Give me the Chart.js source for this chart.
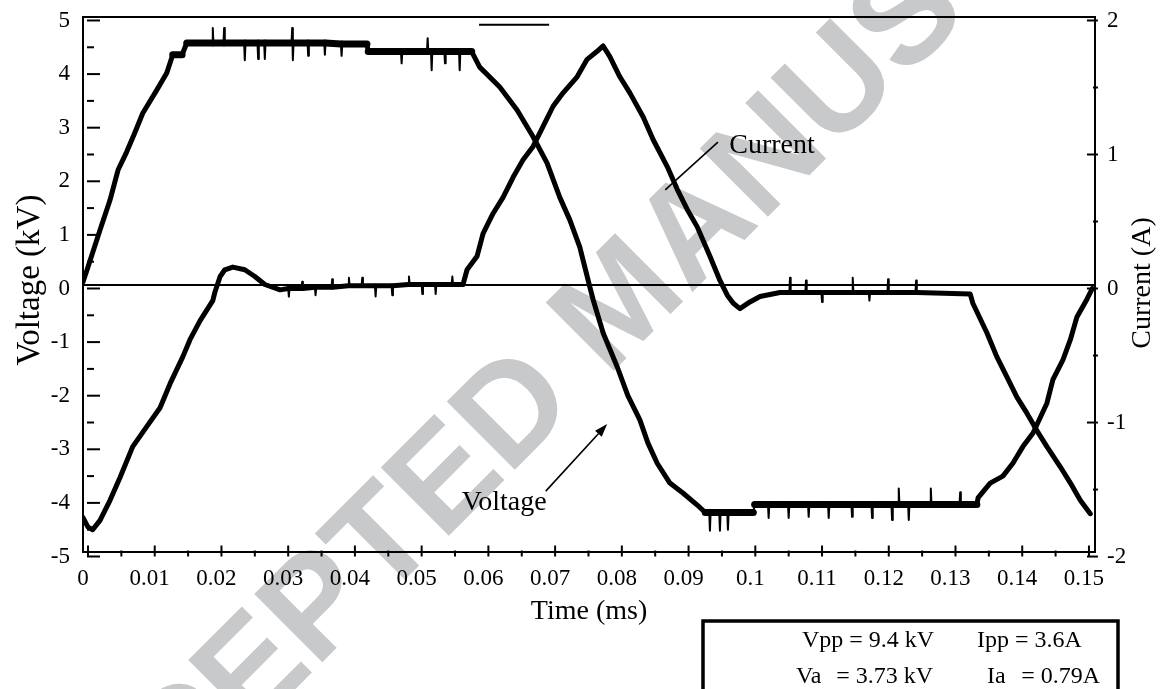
<!DOCTYPE html>
<html>
<head>
<meta charset="utf-8">
<script src="https://cdn.jsdelivr.net/npm/chart.js@4.4.0/dist/chart.umd.min.js"></script>
<style>
html,body{margin:0;padding:0;background:#fff;}
#wrap{width:1160px;height:689px;position:relative;overflow:hidden;}
canvas{display:block;}
</style>
</head>
<body>
<div id="wrap"><canvas id="c" width="1160" height="689"></canvas></div>
<script>
// ---- data (time in ms, voltage in kV, current in A) ----
const voltTime = [
  -0.00075, 0.0000, 0.0018, 0.0033, 0.0045, 0.0058, 0.0070, 0.0082, 0.0103, 0.0118, 0.0127, 0.0141, 0.0148,
  0.0186, 0.0187, 0.0188, 0.0203, 0.0204, 0.0205, 0.0234, 0.0235, 0.0236, 0.0254, 0.0255, 0.0256, 0.0264, 0.0265, 0.0266,
  0.0305, 0.0306, 0.0307, 0.0308, 0.0329, 0.0330, 0.0331, 0.0354, 0.0355, 0.0356, 0.0379, 0.0380, 0.0381, 0.0418, 0.0420,
  0.0469, 0.0470, 0.0471, 0.0508, 0.0509, 0.0510, 0.0514, 0.0515, 0.0516, 0.0534, 0.0535, 0.0536, 0.0556, 0.0557, 0.0558, 0.0575,
  0.0587, 0.0617, 0.0643, 0.0667, 0.0688, 0.0707, 0.0722, 0.0737, 0.0752, 0.0757, 0.0772, 0.0793, 0.0809, 0.0827, 0.0839, 0.0853, 0.0872, 0.0892, 0.0913, 0.0925,
  0.0931, 0.0932, 0.0933, 0.0946, 0.0947, 0.0948, 0.0958, 0.0959, 0.0960, 0.0997, 0.0999,
  0.1019, 0.1020, 0.1021, 0.1049, 0.1050, 0.1051, 0.1079, 0.1080, 0.1081, 0.1109, 0.1110, 0.1111, 0.1144, 0.1145, 0.1146, 0.1174, 0.1175, 0.1176,
  0.1204, 0.1205, 0.1206, 0.1214, 0.1215, 0.1216, 0.1229, 0.1230, 0.1231, 0.1262, 0.1263, 0.1264, 0.1306, 0.1307, 0.1308, 0.1332,
  0.1334, 0.1352, 0.1371, 0.1386, 0.1401, 0.1416, 0.1437, 0.1446, 0.1461, 0.1472, 0.1482, 0.1497, 0.1505];
const voltKV = [
  0.12, 0.40, 1.09, 1.65, 2.21, 2.55, 2.90, 3.27, 3.70, 4.02, 4.36, 4.36, 4.58,
  4.58, 4.86, 4.58, 4.58, 4.86, 4.58, 4.58, 4.26, 4.58, 4.58, 4.28, 4.58, 4.58, 4.28, 4.58,
  4.58, 4.86, 4.26, 4.58, 4.58, 4.34, 4.58, 4.58, 4.36, 4.58, 4.56, 4.34, 4.56, 4.56, 4.42,
  4.42, 4.20, 4.42, 4.42, 4.67, 4.42, 4.42, 4.07, 4.42, 4.42, 4.20, 4.42, 4.42, 4.07, 4.42, 4.42,
  4.13, 3.76, 3.33, 2.83, 2.34, 1.70, 1.28, 0.77, 0.03, -0.21, -0.83, -1.46, -2.00, -2.45, -2.88, -3.26, -3.63, -3.82, -4.04, -4.18,
  -4.18, -4.52, -4.18, -4.18, -4.52, -4.18, -4.18, -4.50, -4.18, -4.18, -4.03,
  -4.03, -4.28, -4.03, -4.03, -4.28, -4.03, -4.03, -4.26, -4.03, -4.03, -4.28, -4.03, -4.03, -4.26, -4.03, -4.03, -4.28, -4.03,
  -4.03, -4.32, -4.03, -4.03, -3.73, -4.03, -4.03, -4.32, -4.03, -4.03, -3.73, -4.03, -4.03, -3.80, -4.03, -4.03,
  -3.90, -3.63, -3.50, -3.26, -2.95, -2.70, -2.14, -1.70, -1.33, -0.96, -0.53, -0.20, 0.00];

const currTime = [
  -0.00075, 0.0000, 0.0007, 0.0018, 0.0033, 0.0048, 0.0067, 0.0088, 0.0108, 0.0123, 0.0142, 0.0153, 0.0168, 0.0187, 0.0190, 0.0198, 0.0205, 0.0217, 0.0235, 0.0250, 0.0265, 0.0288,
  0.0300, 0.0301, 0.0302, 0.0320, 0.0321, 0.0322, 0.0340, 0.0341, 0.0342, 0.0365, 0.0366, 0.0367, 0.0390, 0.0391, 0.0392, 0.0410, 0.0411, 0.0412,
  0.0430, 0.0431, 0.0432, 0.0455, 0.0456, 0.0457, 0.0480, 0.0481, 0.0482, 0.0500, 0.0501, 0.0502, 0.0520, 0.0521, 0.0522, 0.0545, 0.0546, 0.0547, 0.0562,
  0.0568, 0.0583, 0.0592, 0.0607, 0.0622, 0.0637, 0.0652, 0.0667, 0.0682, 0.0697, 0.0712, 0.0733, 0.0748, 0.0763, 0.0772, 0.0782, 0.0797, 0.0812, 0.0832, 0.0847,
  0.0868, 0.0883, 0.0898, 0.0913, 0.0932, 0.0947, 0.0958, 0.0967, 0.0977, 0.0992, 0.1007, 0.1037,
  0.1051, 0.1052, 0.1053, 0.1075, 0.1076, 0.1077, 0.1099, 0.1100, 0.1101, 0.1145, 0.1146, 0.1147, 0.1170, 0.1171, 0.1172, 0.1198, 0.1199, 0.1200, 0.1240, 0.1241, 0.1242, 0.1322,
  0.1326, 0.1347, 0.1362, 0.1377, 0.1392, 0.1407, 0.1422, 0.1437, 0.1457, 0.1472, 0.1487, 0.1502];
const currA = [
  -1.71, -1.78, -1.80, -1.73, -1.58, -1.41, -1.18, -1.03, -0.89, -0.71, -0.51, -0.38, -0.24, -0.09, -0.03, 0.09, 0.14, 0.16, 0.14, 0.09, 0.03, -0.01,
  0.00, -0.06, 0.00, 0.00, 0.05, 0.00, 0.01, -0.05, 0.01, 0.01, 0.07, 0.01, 0.02, 0.08, 0.02, 0.02, 0.08, 0.02,
  0.02, -0.06, 0.02, 0.02, -0.05, 0.02, 0.03, 0.09, 0.03, 0.03, -0.04, 0.03, 0.03, -0.04, 0.03, 0.03, 0.09, 0.03, 0.03,
  0.14, 0.24, 0.41, 0.56, 0.68, 0.83, 0.96, 1.06, 1.21, 1.36, 1.46, 1.58, 1.71, 1.77, 1.81, 1.73, 1.58, 1.46, 1.28, 1.11,
  0.91, 0.74, 0.59, 0.46, 0.24, 0.06, -0.05, -0.11, -0.15, -0.10, -0.06, -0.03,
  -0.03, 0.08, -0.03, -0.03, 0.06, -0.03, -0.03, -0.10, -0.03, -0.03, 0.08, -0.03, -0.03, -0.09, -0.03, -0.03, 0.07, -0.03, -0.03, 0.06, -0.03, -0.04,
  -0.11, -0.33, -0.51, -0.66, -0.81, -0.93, -1.06, -1.18, -1.33, -1.45, -1.58, -1.68];

// ---- axis ticks ----
const timeTicks = [0, 0.01, 0.02, 0.03, 0.04, 0.05, 0.06, 0.07, 0.08, 0.09, 0.10, 0.11, 0.12, 0.13, 0.14, 0.15];
const timeTickLabels = ['0', '0.01', '0.02', '0.03', '0.04', '0.05', '0.06', '0.07', '0.08', '0.09', '0.1', '0.11', '0.12', '0.13', '0.14', '0.15'];
const voltTicks = [-5, -4, -3, -2, -1, 0, 1, 2, 3, 4, 5];
const voltTickLabels = ['-5', '-4', '-3', '-2', '-1', '0', '1', '2', '3', '4', '5'];
const currTicks = [-2, -1, 0, 1, 2];
const currTickLabels = ['-2', '-1', '0', '1', '2'];
const zeroLineKV = 0.065;

// ---- texts ----
const xTitle = 'Time (ms)';
const yLeftTitle = 'Voltage (kV)';
const yRightTitle = 'Current (A)';
const watermark = 'ACCEPTED MANUSCRIPT';
const statsRows = [['Vpp = 9.4 kV', 'Ipp = 3.6A'], ['Va', '= 3.73 kV', 'Ia', '= 0.79A']];
// annotations in data units (time, kV)
const currentNote = {text: 'Current', at: [0.0961, 2.53], from: [0.0865, 1.84], to: [0.0944, 2.73]};
const voltageNote = {text: 'Voltage', at: [0.0560, -4.13], from: [0.0686, -3.78], to: [0.0778, -2.53]};
const topDash = {from: [0.0586, 4.92], to: [0.0691, 4.92]};

const SERIF = '"Liberation Serif", "Times New Roman", Times, serif';

function segW(flat) {
  return ctx => {
    const dx = Math.abs(ctx.p1.x - ctx.p0.x), dy = Math.abs(ctx.p1.y - ctx.p0.y);
    const s = dy / Math.max(dx, 0.01);
    if (s > 6) return 2;
    if (s < 0.25) return flat;
    return 5;
  };
}

function line(c, x1, y1, x2, y2) { c.beginPath(); c.moveTo(x1, y1); c.lineTo(x2, y2); c.stroke(); }

const deco = {
  id: 'deco',
  beforeDraw(chart) {
    const c = chart.ctx;
    c.save();
    c.translate(624, 306);
    c.rotate(-Math.PI / 4);
    c.font = 'bold 140px "Liberation Sans", Arial, sans-serif';
    c.fillStyle = '#c8c9cb';
    c.textAlign = 'center';
    c.textBaseline = 'middle';
    c.fillText(watermark, 0, 0);
    c.restore();
  },
  beforeDatasetsDraw(chart) {
    const c = chart.ctx, a = chart.chartArea;
    const xs = chart.scales.x, yv = chart.scales.yV, yi = chart.scales.yI;
    c.save();
    c.strokeStyle = '#000';
    c.fillStyle = '#000';
    c.lineWidth = 2;
    c.lineCap = 'butt';
    // frame
    c.strokeRect(a.left, a.top, a.right - a.left, a.bottom - a.top);
    // zero reference line
    const yz = yv.getPixelForValue(zeroLineKV);
    line(c, a.left, yz, a.right, yz);
    // small segment at top
    line(c, xs.getPixelForValue(topDash.from[0]), yv.getPixelForValue(topDash.from[1]),
            xs.getPixelForValue(topDash.to[0]), yv.getPixelForValue(topDash.to[1]));
    // left ticks
    const x0 = xs.getPixelForValue(timeTicks[0]) - 1;
    voltTicks.forEach((v, i) => {
      const y = yv.getPixelForValue(v);
      line(c, x0, y, x0 + 13, y);
      if (i < voltTicks.length - 1) {
        const ym = yv.getPixelForValue((v + voltTicks[i + 1]) / 2);
        line(c, x0, ym, x0 + 7, ym);
      }
    });
    // right ticks
    const xr = xs.getPixelForValue(timeTicks[timeTicks.length - 1]) + 9;
    currTicks.forEach((v, i) => {
      const y = yi.getPixelForValue(v);
      line(c, xr - 11, y, xr, y);
      if (i < currTicks.length - 1) {
        const ym = yi.getPixelForValue((v + currTicks[i + 1]) / 2);
        line(c, xr - 5, ym, xr, ym);
      }
    });
    // bottom ticks
    const yb = yv.getPixelForValue(voltTicks[0]);
    timeTicks.forEach((t, i) => {
      const x = xs.getPixelForValue(t);
      line(c, x, yb, x, yb - 11);
      if (i < timeTicks.length - 1) {
        const xm = xs.getPixelForValue((t + timeTicks[i + 1]) / 2);
        line(c, xm, yb, xm, yb - 6);
      }
    });
    // tick labels
    c.font = '23px ' + SERIF;
    c.textBaseline = 'middle';
    c.textAlign = 'right';
    voltTicks.forEach((v, i) => c.fillText(voltTickLabels[i], 70, yv.getPixelForValue(v)));
    c.textAlign = 'left';
    currTicks.forEach((v, i) => c.fillText(currTickLabels[i], 1107, yi.getPixelForValue(v)));
    c.textAlign = 'center';
    c.textBaseline = 'alphabetic';
    timeTicks.forEach((t, i) => c.fillText(timeTickLabels[i], xs.getPixelForValue(t) - 5, 585));
    // axis titles
    c.font = '28px ' + SERIF;
    c.fillText(xTitle, 589, 619);
    c.save();
    c.translate(39, 280);
    c.rotate(-Math.PI / 2);
    c.font = '33px ' + SERIF;
    c.fillText(yLeftTitle, 0, 0);
    c.restore();
    c.save();
    c.translate(1150, 283);
    c.rotate(-Math.PI / 2);
    c.fillText(yRightTitle, 0, 0);
    c.restore();
    c.restore();
  },
  afterDatasetsDraw(chart) {
    const c = chart.ctx;
    const xs = chart.scales.x, yv = chart.scales.yV;
    const P = p => [xs.getPixelForValue(p[0]), yv.getPixelForValue(p[1])];
    c.save();
    c.strokeStyle = '#000';
    c.fillStyle = '#000';
    c.lineWidth = 1.6;
    c.font = '28px ' + SERIF;
    c.textAlign = 'left';
    c.textBaseline = 'alphabetic';
    // Current note
    let f = P(currentNote.from), t = P(currentNote.to), at = P(currentNote.at);
    line(c, f[0], f[1], t[0], t[1]);
    c.fillText(currentNote.text, at[0], at[1]);
    // Voltage note with arrow
    f = P(voltageNote.from); t = P(voltageNote.to); at = P(voltageNote.at);
    const ang = Math.atan2(t[1] - f[1], t[0] - f[0]);
    const hl = 13, hw = 4.5;
    const bx = t[0] - hl * Math.cos(ang), by = t[1] - hl * Math.sin(ang);
    line(c, f[0], f[1], bx, by);
    c.beginPath();
    c.moveTo(t[0], t[1]);
    c.lineTo(bx + hw * Math.sin(ang), by - hw * Math.cos(ang));
    c.lineTo(bx - hw * Math.sin(ang), by + hw * Math.cos(ang));
    c.closePath();
    c.fill();
    c.fillText(voltageNote.text, at[0], at[1]);
    // stats box
    c.lineWidth = 3.5;
    c.strokeRect(703, 621, 415, 110);
    c.font = '24px ' + SERIF;
    c.fillText(statsRows[0][0], 802, 647);
    c.fillText(statsRows[0][1], 977, 647);
    c.fillText(statsRows[1][0], 796, 683);
    c.textAlign = 'right';
    c.fillText(statsRows[1][1], 933, 683);
    c.textAlign = 'left';
    c.fillText(statsRows[1][2], 987, 683);
    c.textAlign = 'right';
    c.fillText(statsRows[1][3], 1100, 683);
    c.restore();
  }
};

new Chart(document.getElementById('c'), {
  type: 'scatter',
  data: {
    datasets: [
      {
        label: 'Voltage',
        data: voltTime.map((t, i) => ({x: t, y: voltKV[i]})),
        yAxisID: 'yV',
        showLine: true,
        borderColor: '#000',
        backgroundColor: '#000',
        borderWidth: 5,
        pointRadius: 0,
        borderJoinStyle: 'round',
        borderCapStyle: 'round',
        segment: {borderWidth: segW(7)}
      },
      {
        label: 'Current',
        data: currTime.map((t, i) => ({x: t, y: currA[i]})),
        yAxisID: 'yI',
        showLine: true,
        borderColor: '#000',
        backgroundColor: '#000',
        borderWidth: 5,
        pointRadius: 0,
        borderJoinStyle: 'round',
        borderCapStyle: 'round',
        segment: {borderWidth: segW(5)}
      }
    ]
  },
  options: {
    responsive: false,
    animation: false,
    devicePixelRatio: 1,
    events: [],
    layout: {autoPadding: false, padding: {left: 83, right: 65, top: 17, bottom: 137}},
    plugins: {legend: {display: false}, tooltip: {enabled: false}, title: {display: false}},
    scales: {
      x: {type: 'linear', min: -0.000749, max: 0.150906, display: false},
      yV: {type: 'linear', position: 'left', min: -4.916, max: 5.065, display: false},
      yI: {type: 'linear', position: 'right', min: -1.966, max: 2.026, display: false}
    }
  },
  plugins: [deco]
});
</script>
</body>
</html>
